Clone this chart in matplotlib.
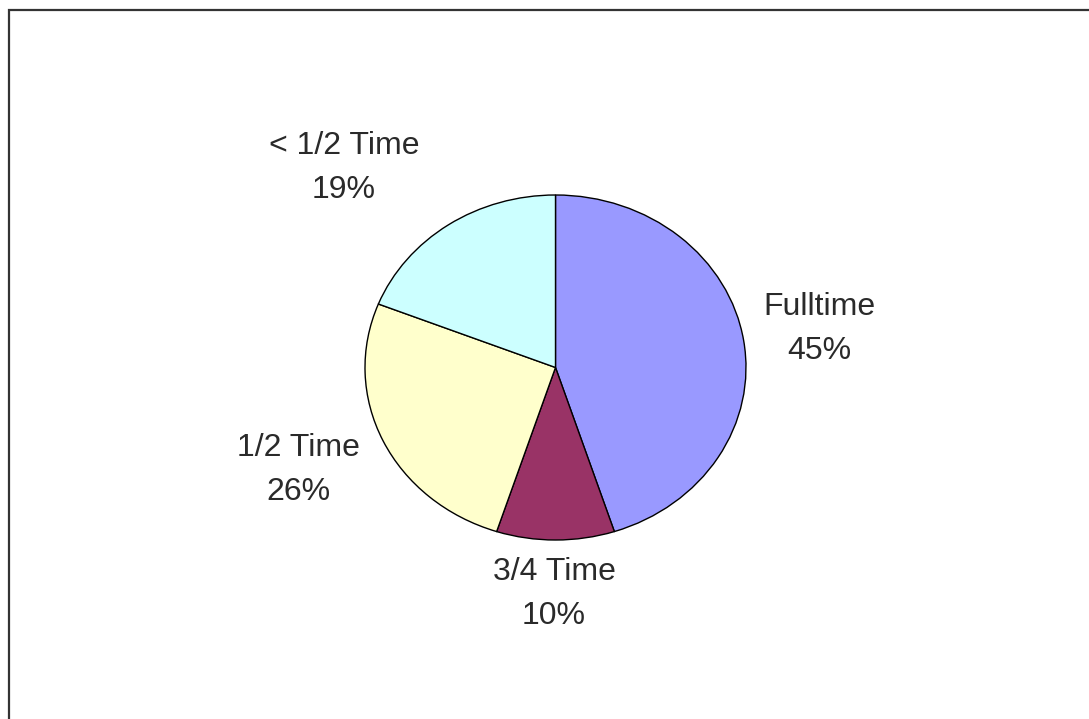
import matplotlib.pyplot as plt
from matplotlib.patches import Rectangle

# slices, clockwise from 12 o'clock
labels = ["Fulltime", "3/4 Time", "1/2 Time", "< 1/2 Time"]
shares = [45, 10, 26, 19]
colors = ["#9999FF", "#993366", "#FFFFCC", "#CCFFFF"]

W, H = 1089, 719
fig = plt.figure(figsize=(W / 100, H / 100), dpi=100)
plt.rcParams['font.family'] = ['Liberation Sans', 'DejaVu Sans']

# pie is slightly wider than tall in the original
cx, cy = 555.5, H - 367.5
rx, ry = 190.5, 172.5

ax = fig.add_axes([0, 0, 1, 1])
wedges, _ = ax.pie(shares, colors=colors, startangle=90, counterclock=False,
                   wedgeprops=dict(edgecolor="black", linewidth=1.0))
ax.set_aspect('auto')
ax.set_xlim(-cx / rx, (W - cx) / rx)
ax.set_ylim(-cy / ry, (H - cy) / ry)
ax.axis('off')

# label positions in pixels (centre of the two-line block)
label_px = [(819, 329), (554, 594), (298, 470), (344, 168)]
for name, val, (px, py) in zip(labels, shares, label_px):
    fig.text(px / W, 1 - py / H, f"{name}\n{val}%", ha="center", va="center",
             fontsize=23, color="#2a2a2a", linespacing=1.6)

# outer frame (only left and top visible in the crop)
fig.add_artist(Rectangle((8.5 / W, -0.1), 1.2, 1 - 10.5 / H + 0.1,
                         transform=fig.transFigure, fill=False,
                         edgecolor="#333333", linewidth=1.6))

fig.savefig("out.png", dpi=100)
